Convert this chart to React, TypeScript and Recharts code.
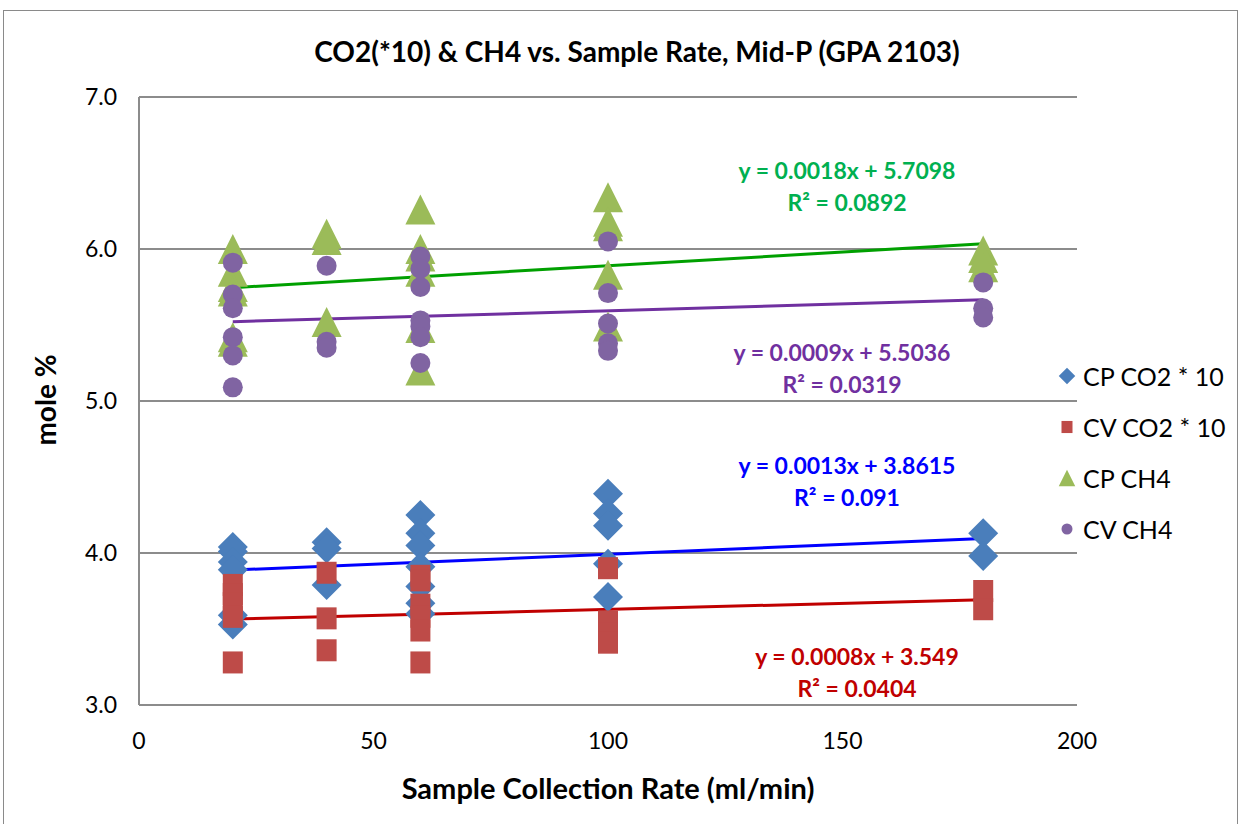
import React from 'react'
import {
  ScatterChart,
  Scatter,
  XAxis,
  YAxis,
  CartesianGrid,
  ReferenceLine,
} from 'recharts'

// data points: [rate, mole %]
const CP_CO2: [number, number][] = [
  [20, 4.04], [20, 4.01], [20, 3.94], [20, 3.89], [20, 3.59], [20, 3.53],
  [40, 4.07], [40, 4.03], [40, 3.79],
  [60, 4.25], [60, 4.13], [60, 4.05], [60, 3.91], [60, 3.78], [60, 3.67], [60, 3.6],
  [100, 4.39], [100, 4.26], [100, 4.18], [100, 3.93], [100, 3.71],
  [180, 4.13], [180, 3.98],
]
const CV_CO2: [number, number][] = [
  [20, 3.79], [20, 3.73], [20, 3.67], [20, 3.58], [20, 3.28],
  [40, 3.87], [40, 3.57], [40, 3.36],
  [60, 3.85], [60, 3.82], [60, 3.66], [60, 3.58], [60, 3.49], [60, 3.28],
  [100, 3.9], [100, 3.55], [100, 3.47], [100, 3.41],
  [180, 3.75], [180, 3.63],
]
const CP_CH4: [number, number][] = [
  [20, 6.0], [20, 5.85], [20, 5.75], [20, 5.72], [20, 5.42], [20, 5.39],
  [40, 6.1], [40, 6.06], [40, 5.52],
  [60, 6.26], [60, 6.0], [60, 5.95], [60, 5.85], [60, 5.48], [60, 5.2],
  [100, 6.34], [100, 6.18], [100, 6.15], [100, 5.83], [100, 5.49],
  [180, 5.99], [180, 5.94], [180, 5.88],
]
const CV_CH4: [number, number][] = [
  [20, 5.91], [20, 5.7], [20, 5.61], [20, 5.42], [20, 5.3], [20, 5.09],
  [40, 5.89], [40, 5.39], [40, 5.35],
  [60, 5.95], [60, 5.87], [60, 5.75], [60, 5.53], [60, 5.49], [60, 5.42], [60, 5.25],
  [100, 6.05], [100, 5.71], [100, 5.51], [100, 5.38], [100, 5.33],
  [180, 5.78], [180, 5.61], [180, 5.55],
]

const X_TICKS = [0, 50, 100, 150, 200]
const Y_TICKS = [3, 4, 5, 6, 7]
const TREND_RANGE = [20, 180]

// trendlines as printed on the chart
const TRENDS = [
  { name: 'CP CH4', slope: 0.0018, icept: 5.7098, r2: '0.0892', eq: 'y = 0.0018x + 5.7098', line: '#00a000', text: '#00b050', lx: 847, ly: 170 },
  { name: 'CV CH4', slope: 0.0009, icept: 5.5036, r2: '0.0319', eq: 'y = 0.0009x + 5.5036', line: '#7030a0', text: '#7030a0', lx: 842, ly: 352 },
  { name: 'CP CO2', slope: 0.0013, icept: 3.8615, r2: '0.091', eq: 'y = 0.0013x + 3.8615', line: '#0000ff', text: '#0000ff', lx: 847, ly: 465 },
  { name: 'CV CO2', slope: 0.0008, icept: 3.549, r2: '0.0404', eq: 'y = 0.0008x + 3.549', line: '#c00000', text: '#c00000', lx: 857, ly: 656 },
]

const SERIES = [
  { name: 'CP CO2 * 10', data: CP_CO2, color: '#4a7ebb', shape: 'diamond' },
  { name: 'CV CO2 * 10', data: CV_CO2, color: '#be4b48', shape: 'square' },
  { name: 'CP CH4', data: CP_CH4, color: '#9bbb59', shape: 'triangle' },
  { name: 'CV CH4', data: CV_CH4, color: '#8064a2', shape: 'circle' },
]

const FONT = 'Lato, "Liberation Sans", sans-serif'

function Marker({ kind, cx, cy, color, s = 1 }: { kind: string; cx: number; cy: number; color: string; s?: number }) {
  if (kind === 'diamond') {
    const h = 15 * s
    return <path d={`M${cx},${cy - h}L${cx + h},${cy}L${cx},${cy + h}L${cx - h},${cy}Z`} fill={color} />
  }
  if (kind === 'square') {
    return <rect x={cx - 10 * s} y={cy - 11 * s} width={20 * s} height={22 * s} fill={color} />
  }
  if (kind === 'triangle') {
    const h = 15 * s
    return <path d={`M${cx},${cy - h}L${cx + h},${cy + h}L${cx - h},${cy + h}Z`} fill={color} />
  }
  return <circle cx={cx} cy={cy} r={10 * s} fill={color} />
}

export default function App() {
  return (
    <div style={{ position: 'absolute', left: 0, top: 0, width: 1240, height: 824, background: '#fff', overflow: 'hidden', fontFamily: FONT }}>
      <div style={{ position: 'absolute', left: 3, top: 10, width: 1233, height: 900, border: '1px solid #8a8a8a' }} />
      <div style={{ position: 'absolute', left: 0, width: 1274, top: 34, textAlign: 'center', fontSize: 28, fontWeight: 700 }}>
        CO2(*10) &amp; CH4 vs. Sample Rate, Mid-P (GPA 2103)
      </div>
      <div style={{ position: 'absolute', left: 139, width: 938, top: 770, textAlign: 'center', fontSize: 29, fontWeight: 700 }}>
        Sample Collection Rate (ml/min)
      </div>
      <div style={{ position: 'absolute', left: 45, top: 400, transform: 'translate(-50%, -50%) rotate(-90deg)', fontSize: 28, fontWeight: 700, whiteSpace: 'nowrap' }}>
        mole %
      </div>
      <ScatterChart width={1240} height={824} margin={{ top: 97, right: 163, bottom: 89, left: 79 }}>
        <CartesianGrid vertical={false} stroke="#8c8c8c" strokeWidth={2} />
        <XAxis
          type="number"
          dataKey="0"
          domain={[0, 200]}
          ticks={X_TICKS}
          tickLine={false}
          axisLine={false}
          tickMargin={22}
          height={30}
          tick={{ fill: '#000', fontSize: 23, fontFamily: FONT }}
        />
        <YAxis
          type="number"
          dataKey="1"
          domain={[3, 7]}
          ticks={Y_TICKS}
          tickFormatter={(v: number) => v.toFixed(1)}
          tickLine={false}
          axisLine={{ stroke: '#8c8c8c', strokeWidth: 2 }}
          tickMargin={16}
          width={60}
          tick={{ fill: '#000', fontSize: 23, fontFamily: FONT }}
        />
        {SERIES.map((s) => (
          <Scatter
            key={s.name}
            name={s.name}
            data={s.data}
            fill={s.color}
            isAnimationActive={false}
            shape={(p: any) => <Marker kind={s.shape} cx={p.cx} cy={p.cy} color={s.color} />}
          />
        ))}
        {TRENDS.map((t) => (
          <ReferenceLine
            key={t.name}
            segment={TREND_RANGE.map((x) => ({ x, y: t.slope * x + t.icept }))}
            stroke={t.line}
            strokeWidth={3}
          />
        ))}
      </ScatterChart>
      {/* legend */}
      <div style={{ position: 'absolute', left: 1055, top: 350, fontSize: 25, color: '#000' }}>
        {SERIES.map((s) => (
          <div key={s.name} style={{ display: 'flex', alignItems: 'center', height: 51 }}>
            <svg width={24} height={24} style={{ marginRight: 4 }}>
              <Marker kind={s.shape} cx={12} cy={12} color={s.color} s={0.55} />
            </svg>
            <span>{s.name}</span>
          </div>
        ))}
      </div>
      {TRENDS.map((t) => (
        <div
          key={t.name}
          style={{ position: 'absolute', left: t.lx - 150, width: 300, top: t.ly - 16, textAlign: 'center', color: t.text, fontSize: 23, fontWeight: 700, lineHeight: '32px' }}
        >
          <div>{t.eq}</div>
          <div>R² = {t.r2}</div>
        </div>
      ))}
    </div>
  )
}
